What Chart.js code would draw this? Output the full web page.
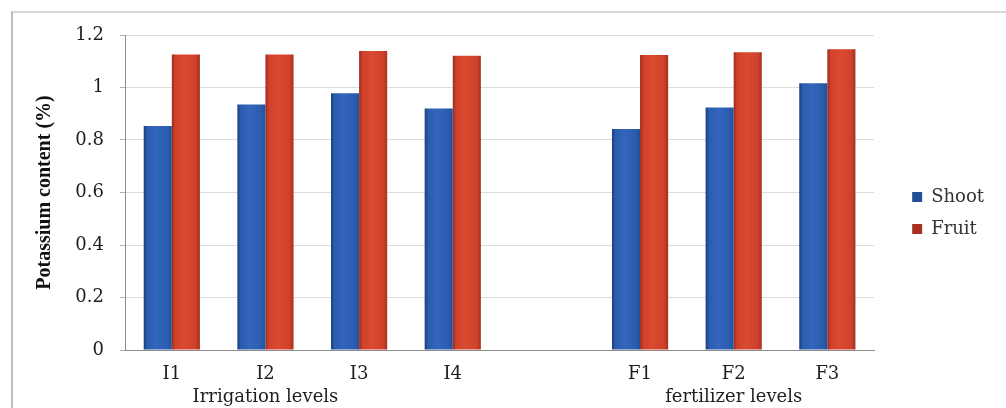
<!DOCTYPE html>
<html>
<head>
<meta charset="utf-8">
<script src="https://cdn.jsdelivr.net/npm/chart.js@4/dist/chart.umd.min.js"></script>
<style>
  html, body { margin: 0; padding: 0; background: #fff; }
  #wrap { position: relative; width: 1006px; height: 408px; overflow: hidden; }
  #frame { position: absolute; left: 11px; top: 11px; width: 1010px; height: 420px;
           border-top: 2px solid #d6d6d6; border-left: 2px solid #bdbdbd; pointer-events: none; }
  canvas { position: absolute; left: 0; top: 0; }
</style>
</head>
<body>
<div id="wrap">
  <canvas id="c" width="1006" height="408"></canvas>
  <div id="frame"></div>
</div>
<script>
// Treatment levels on the x axis (blank slot separates the two factor groups)
const levels = ['I1', 'I2', 'I3', 'I4', '', 'F1', 'F2', 'F3'];
// Group names printed on a second line under the middle level of each group
const groupNames = ['', 'Irrigation levels', '', '', '', '', 'fertilizer levels', ''];
// Potassium content (%)
const shoot = [0.853, 0.935, 0.978, 0.920, null, 0.842, 0.924, 1.016];
const fruit = [1.126, 1.126, 1.139, 1.121, null, 1.124, 1.134, 1.146];
const yTicks = [0, 0.2, 0.4, 0.6, 0.8, 1, 1.2];

const labels = levels.map((l, i) => [l, groupNames[i]]);

const serif = "'DejaVu Serif', serif";
const titleSerif = "'Liberation Serif', 'Times New Roman', serif";
const CAT_PCT = 0.6;

const palettes = [
  { solid: '#2a5cae', edge: '#1a3d78', mid: '#3366bc', right: '#234f98' },
  { solid: '#d0412b', edge: '#9a2b1b', mid: '#da4a31', right: '#a7311e' }
];

// Horizontal shading across each bar for a rounded look
function barFill(ctx) {
  const p = palettes[ctx.datasetIndex];
  const chart = ctx.chart;
  const xs = chart.scales && chart.scales.x;
  if (ctx.type !== 'data' || !xs || !chart.chartArea) return p.solid;
  const n = chart.data.labels.length;
  const cat = (xs.right - xs.left) / n;
  const barW = cat * CAT_PCT / 2;
  const center = xs.getPixelForValue(ctx.dataIndex);
  const left = center - cat * CAT_PCT / 2 + ctx.datasetIndex * barW;
  const g = chart.ctx.createLinearGradient(left, 0, left + barW, 0);
  g.addColorStop(0, p.edge);
  g.addColorStop(0.12, p.solid);
  g.addColorStop(0.45, p.mid);
  g.addColorStop(0.85, p.solid);
  g.addColorStop(1, p.right);
  return g;
}

// Empty spacer boxes used only to reserve room around the plot
const spacer = (pos, size) => ({
  position: pos, display: true,
  grid: { display: false, drawTicks: false },
  border: { display: false },
  ticks: { display: false },
  afterFit(s) { if (pos === 'top') s.height = size; else s.width = size; }
});

new Chart(document.getElementById('c'), {
  type: 'bar',
  data: {
    labels: labels,
    datasets: [
      { label: 'Shoot', data: shoot, backgroundColor: barFill, borderWidth: 0 },
      { label: 'Fruit', data: fruit, backgroundColor: barFill, borderWidth: 0 }
    ]
  },
  options: {
    responsive: false,
    animation: false,
    events: [],
    layout: { padding: { left: 30, right: 12, top: 18, bottom: 0 } },
    datasets: { bar: { categoryPercentage: CAT_PCT, barPercentage: 1.0 } },
    plugins: {
      legend: {
        position: 'right',
        labels: {
          boxWidth: 10, boxHeight: 10, padding: 14,
          color: '#333',
          font: { family: serif, size: 18 }
        }
      },
      tooltip: { enabled: false }
    },
    scales: {
      x: {
        grid: { display: false },
        border: { color: '#8c8c8c', width: 1 },
        ticks: {
          color: '#1e1e1e', padding: 5,
          autoSkip: false, maxRotation: 0, minRotation: 0,
          font: { family: serif, size: 18, lineHeight: 1.28 }
        },
        afterFit(s) { s.height = 58; }
      },
      topGap: Object.assign({ type: 'category', labels: [''] }, spacer('top', 17)),
      y: {
        min: 0, max: 1.2,
        afterBuildTicks(s) { s.ticks = yTicks.map(v => ({ value: v })); },
        grid: { color: '#dcdcdc', tickLength: 5, tickColor: '#b0b0b0' },
        border: { color: '#8c8c8c', width: 1 },
        ticks: {
          color: '#1e1e1e', padding: 16,
          font: { family: serif, size: 18 },
          callback: v => String(v)
        },
        title: {
          display: true, text: 'Potassium content (%)', color: '#111',
          padding: { top: 3, bottom: 0 },
          font: { family: titleSerif, size: 20, weight: 'bold' }
        },
        afterFit(s) { s.width = 125 - 30; }
      },
      gap: Object.assign({ type: 'linear' }, spacer('right', 24))
    }
  }
});
</script>
</body>
</html>
